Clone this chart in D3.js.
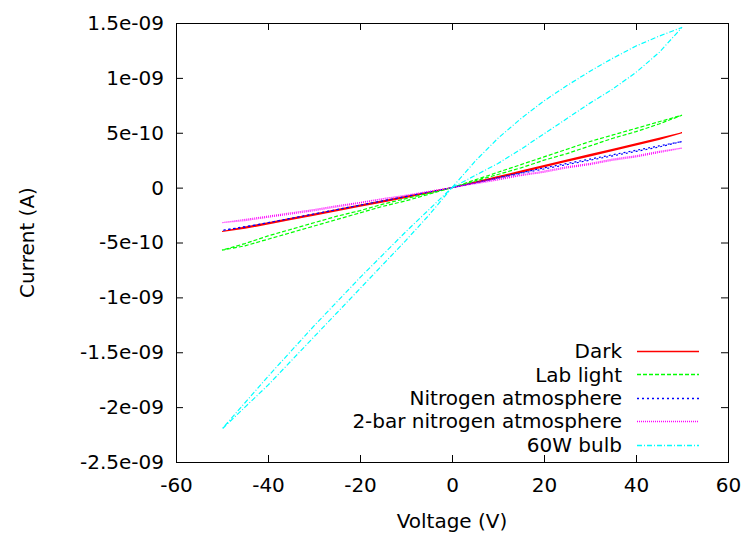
<!DOCTYPE html>
<html>
<head>
<meta charset="utf-8">
<script src="https://cdn.jsdelivr.net/npm/d3@7"></script>
<style>
  body { margin: 0; background: #fff; }
  text { font-family: "DejaVu Sans", sans-serif; font-size: 20px; fill: #000; }
</style>
</head>
<body>
<div id="chart"></div>
<script>
// sweep 0 -> 50 -> -50 -> 0 (volts)
var voltage = [0, 5, 10, 15, 20, 25, 30, 35, 40, 45, 50,
  45, 40, 35, 30, 25, 20, 15, 10, 5, 0,
  -5, -10, -15, -20, -25, -30, -35, -40, -45, -50,
  -45, -40, -35, -30, -25, -20, -15, -10, -5, 0];

// currents in nA
var dark = [0, 0.05, 0.10, 0.15, 0.20, 0.25, 0.30, 0.35, 0.40, 0.45, 0.50,
  0.44, 0.39, 0.34, 0.29, 0.24, 0.19, 0.14, 0.09, 0.045, 0,
  -0.04, -0.08, -0.12, -0.16, -0.20, -0.24, -0.28, -0.32, -0.36, -0.40,
  -0.37, -0.33, -0.29, -0.25, -0.21, -0.17, -0.13, -0.09, -0.045, 0];
var labLight = [0, 0.07, 0.14, 0.21, 0.28, 0.35, 0.42, 0.48, 0.54, 0.60, 0.66,
  0.58, 0.51, 0.45, 0.38, 0.31, 0.25, 0.18, 0.12, 0.06, 0,
  -0.05, -0.10, -0.15, -0.21, -0.26, -0.32, -0.38, -0.44, -0.51, -0.57,
  -0.53, -0.47, -0.41, -0.35, -0.29, -0.23, -0.17, -0.12, -0.06, 0];
var nitrogen = [0, 0.045, 0.09, 0.135, 0.18, 0.22, 0.26, 0.30, 0.34, 0.38, 0.42,
  0.37, 0.33, 0.29, 0.25, 0.21, 0.17, 0.13, 0.085, 0.04, 0,
  -0.04, -0.08, -0.12, -0.16, -0.20, -0.24, -0.28, -0.32, -0.355, -0.39,
  -0.36, -0.32, -0.28, -0.24, -0.20, -0.16, -0.12, -0.08, -0.04, 0];
var twoBar = [0, 0.04, 0.08, 0.115, 0.15, 0.19, 0.22, 0.26, 0.29, 0.33, 0.36,
  0.32, 0.28, 0.25, 0.21, 0.18, 0.14, 0.11, 0.07, 0.035, 0,
  -0.035, -0.07, -0.10, -0.135, -0.165, -0.20, -0.23, -0.26, -0.29, -0.32,
  -0.30, -0.27, -0.24, -0.21, -0.175, -0.14, -0.105, -0.07, -0.035, 0];
var bulb = [0, 0.24, 0.45, 0.63, 0.79, 0.93, 1.06, 1.18, 1.29, 1.38, 1.46,
  1.23, 1.05, 0.90, 0.77, 0.63, 0.49, 0.35, 0.22, 0.11, 0,
  -0.20, -0.40, -0.61, -0.82, -1.04, -1.26, -1.49, -1.72, -1.96, -2.20,
  -2.00, -1.80, -1.58, -1.36, -1.14, -0.92, -0.70, -0.48, -0.25, 0];

var seriesNames = ["Dark", "Lab light", "Nitrogen atmosphere", "2-bar nitrogen atmosphere", "60W bulb"];
var seriesValues = [dark, labLight, nitrogen, twoBar, bulb];
var seriesColors = ["#ff0000", "#00ff00", "#0000ff", "#ff00ff", "#00ffff"];
var seriesDashes = ["none", "4,2", "2,3", "1,1", "5,2,1,2"];

var xTicks = [-60, -40, -20, 0, 20, 40, 60];
var xTickLabels = ["-60", "-40", "-20", "0", "20", "40", "60"];
var yTicks = [1.5e-9, 1e-9, 5e-10, 0, -5e-10, -1e-9, -1.5e-9, -2e-9, -2.5e-9];
var yTickLabels = ["1.5e-09", "1e-09", "5e-10", "0", "-5e-10", "-1e-09", "-1.5e-09", "-2e-09", "-2.5e-09"];

var svgWidth = 748;
var svgHeight = 535;
var margin = { top: 23, right: 20, bottom: 73, left: 176 };
var width = svgWidth - margin.left - margin.right;
var height = svgHeight - margin.top - margin.bottom;

var svg = d3.select("#chart")
  .append("svg")
  .attr("width", svgWidth)
  .attr("height", svgHeight);

var chartGroup = svg.append("g")
  .attr("transform", `translate(${margin.left}, ${margin.top})`);

var xScale = d3.scaleLinear().domain([-60, 60]).range([0, width]);
var yScale = d3.scaleLinear().domain([-2.5e-9, 1.5e-9]).range([height, 0]);

// ticks pointing inward on all four sides (gnuplot style)
var tickLen = 7;
var bottomAxis = d3.axisBottom(xScale).tickValues(xTicks).tickSizeInner(-tickLen).tickSizeOuter(0).tickPadding(16)
  .tickFormat((d, i) => xTickLabels[i]);
var topAxis = d3.axisTop(xScale).tickValues(xTicks).tickSizeInner(-tickLen).tickSizeOuter(0).tickFormat("");
var leftAxis = d3.axisLeft(yScale).tickValues(yTicks).tickSizeInner(-tickLen).tickSizeOuter(0).tickPadding(12)
  .tickFormat((d, i) => yTickLabels[i]);
var rightAxis = d3.axisRight(yScale).tickValues(yTicks).tickSizeInner(-tickLen).tickSizeOuter(0).tickFormat("");

function styleAxis(g) {
  g.select(".domain").remove();
  g.selectAll("line").attr("stroke", "#000");
  g.selectAll("text")
    .style("font-family", '"DejaVu Sans", sans-serif')
    .style("font-size", "20px")
    .attr("fill", "#000");
}

chartGroup.append("g").attr("transform", `translate(0, ${height})`).call(bottomAxis).call(styleAxis);
chartGroup.append("g").call(topAxis).call(styleAxis);
chartGroup.append("g").call(leftAxis).call(styleAxis);
chartGroup.append("g").attr("transform", `translate(${width}, 0)`).call(rightAxis).call(styleAxis);

// data lines
var line = d3.line()
  .x(d => xScale(d[0]))
  .y(d => yScale(d[1] * 1e-9));

seriesValues.forEach(function(vals, i) {
  var pts = voltage.map((v, j) => [v, vals[j]]);
  chartGroup.append("path")
    .datum(pts)
    .attr("d", line)
    .attr("fill", "none")
    .attr("stroke", seriesColors[i])
    .attr("stroke-width", 1.2)
    .attr("stroke-dasharray", seriesDashes[i]);
});

// border
chartGroup.append("rect")
  .attr("x", 0.5).attr("y", 0.5)
  .attr("width", width).attr("height", height)
  .attr("fill", "none")
  .attr("stroke", "#000")
  .attr("stroke-width", 1);

// legend
var legend = chartGroup.append("g")
  .attr("transform", "translate(446, 328)");
seriesNames.forEach(function(name, i) {
  var rowY = i * 23.4;
  legend.append("text")
    .attr("x", 0)
    .attr("y", rowY)
    .attr("dy", "0.36em")
    .attr("text-anchor", "end")
    .text(name);
  legend.append("line")
    .attr("x1", 15).attr("x2", 77)
    .attr("y1", Math.round(rowY) + 0.5).attr("y2", Math.round(rowY) + 0.5)
    .style("stroke", seriesColors[i])
    .style("stroke-width", 1.4)
    .style("stroke-dasharray", seriesDashes[i]);
});

// axis labels
svg.append("text")
  .attr("transform", `translate(34, ${margin.top + height / 2}) rotate(-90)`)
  .attr("text-anchor", "middle")
  .text("Current (A)");

svg.append("text")
  .attr("x", margin.left + width / 2)
  .attr("y", 528)
  .attr("text-anchor", "middle")
  .text("Voltage (V)");
</script>
</body>
</html>
